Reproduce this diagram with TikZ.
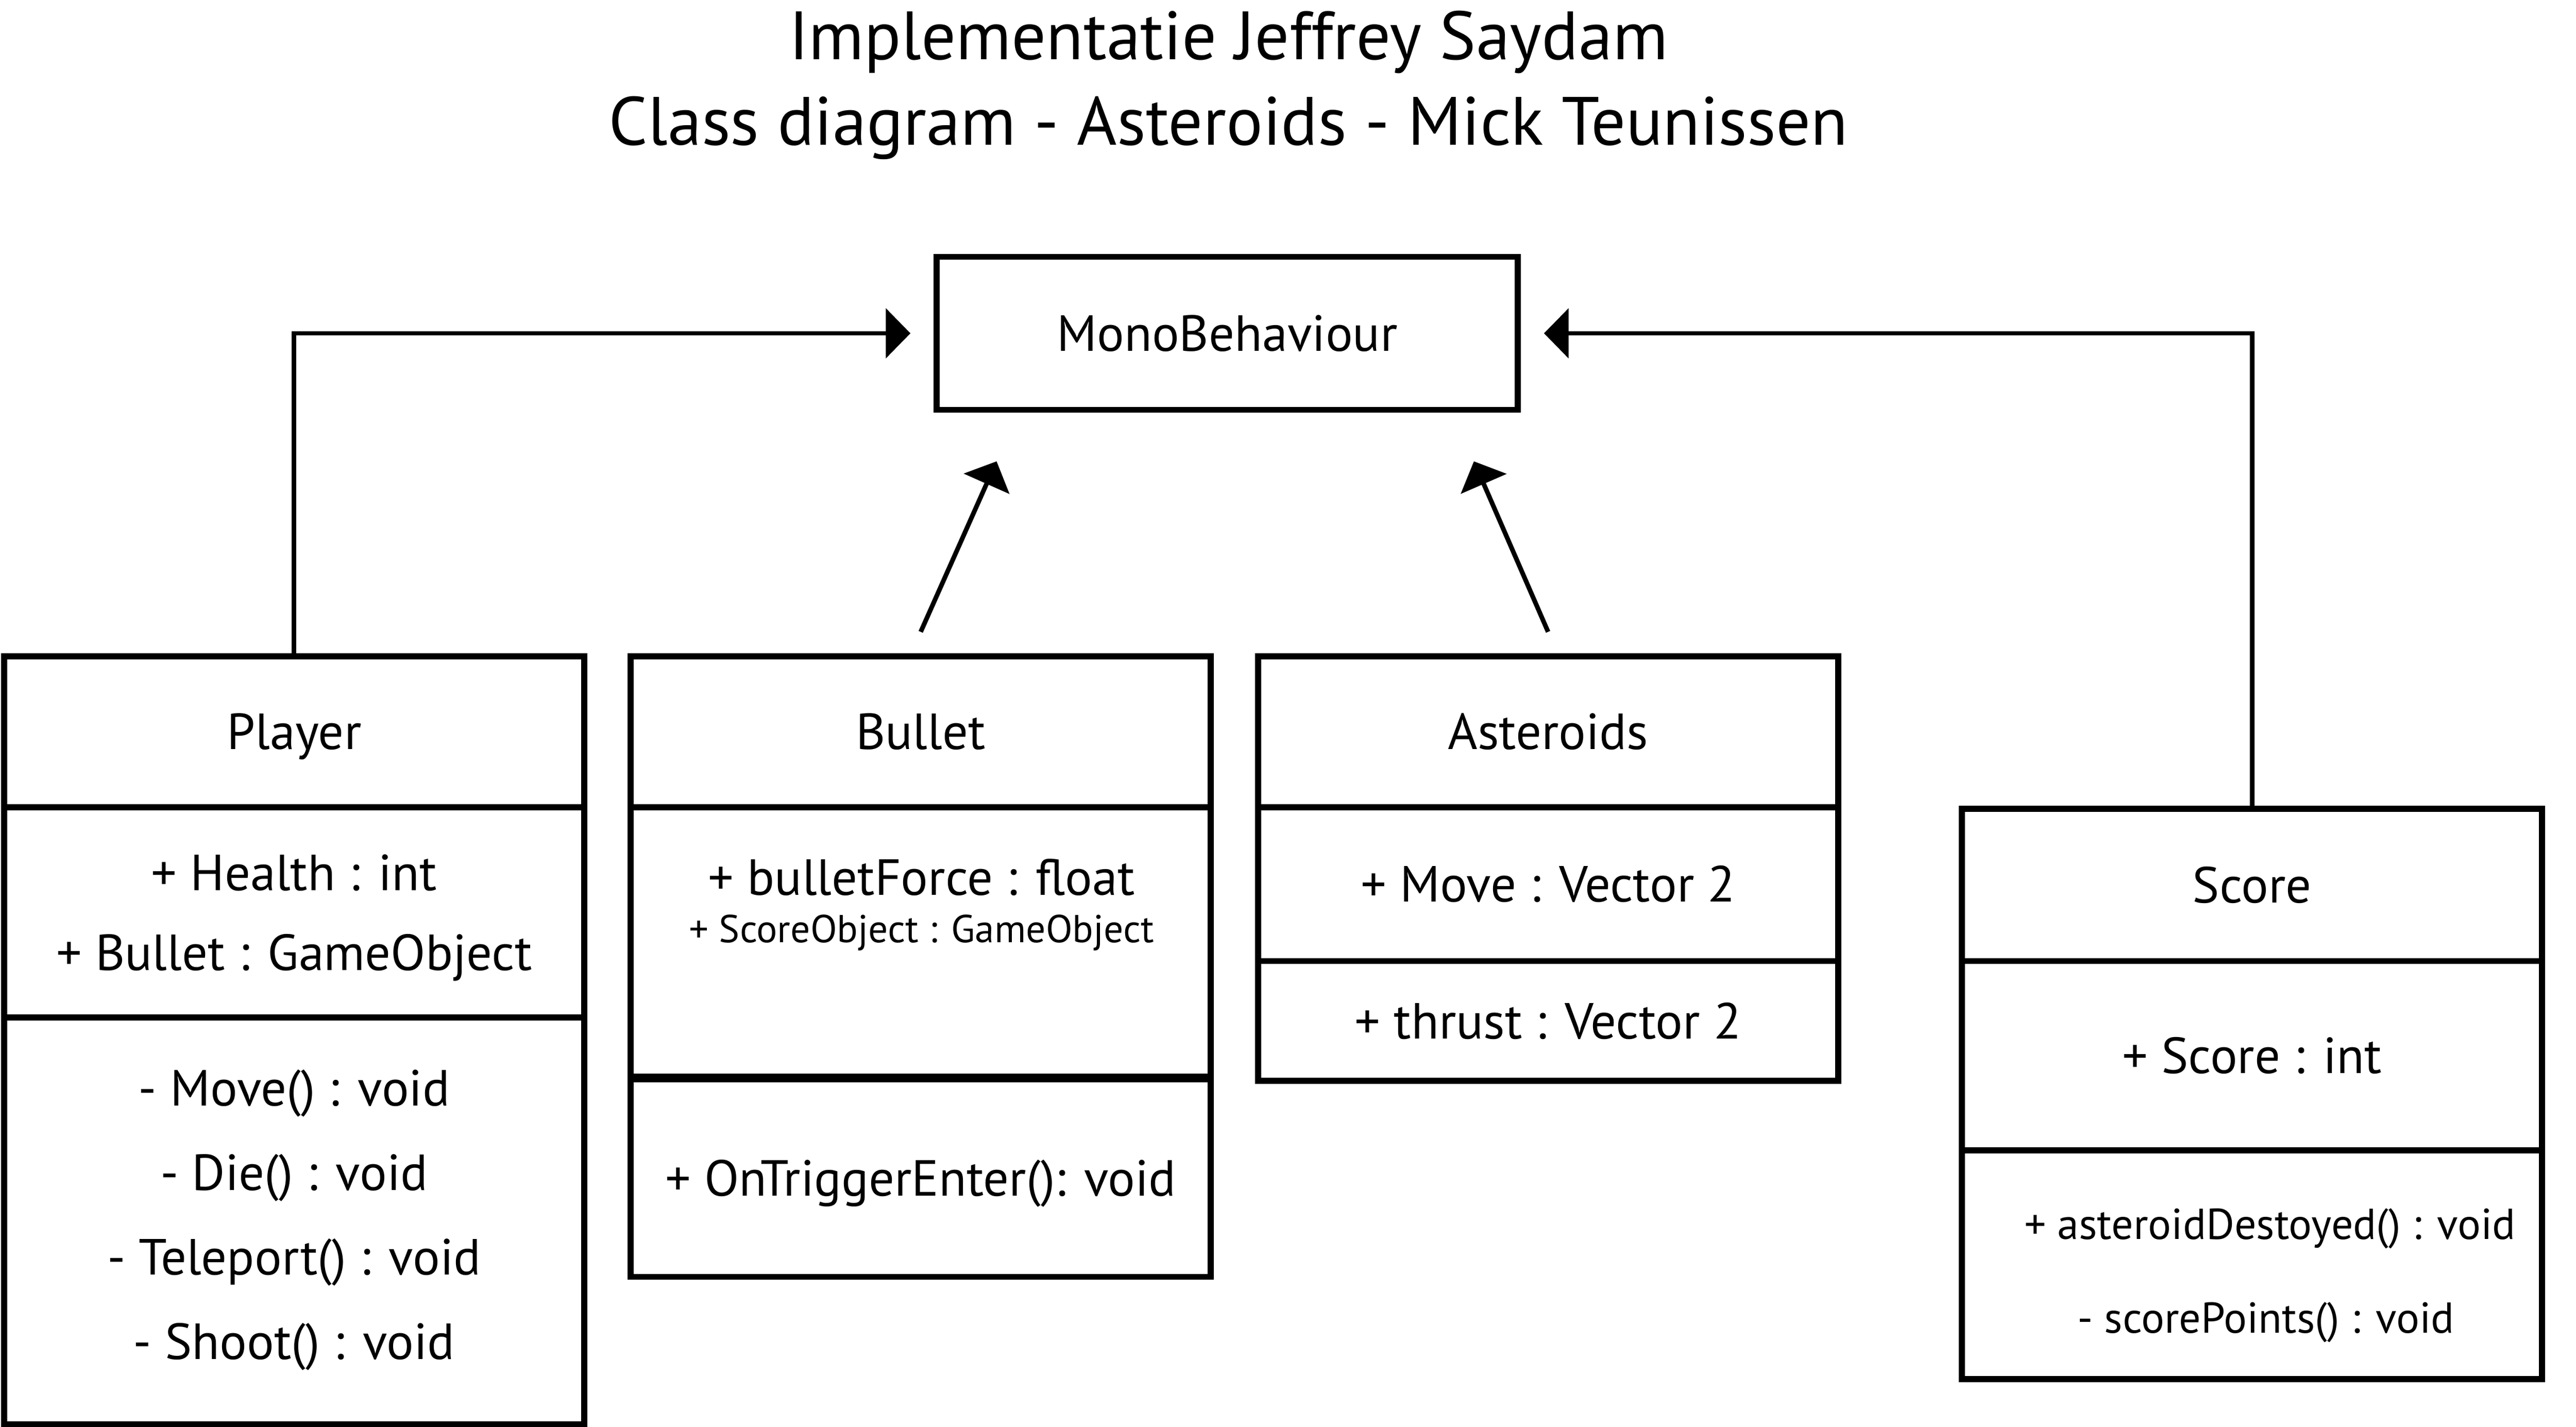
\documentclass[tikz,border=0pt]{standalone}
\usepackage{fontspec}
\setmainfont{PT Sans}
\usetikzlibrary{arrows.meta}

\newcommand{\bodyfont}{\fontsize{17.6pt}{28pt}\selectfont}
\newcommand{\titlefont}{\fontsize{23.7pt}{29.6pt}\selectfont}
\newcommand{\smallfont}{\fontsize{13.5pt}{16pt}\selectfont}
\newcommand{\methfont}{\fontsize{15pt}{18pt}\selectfont}

\tikzset{
  box/.style={draw, line width=2.1pt, minimum width=7.07cm, inner sep=0pt, outer sep=0pt, font=\bodyfont, text height=12.3pt, text depth=0pt, align=center},
  txt/.style={inner sep=0pt, anchor=base},
  inh/.style={line width=1.6pt, -{Triangle[length=0.3cm, width=0.6cm]}},
}

\begin{document}
\begin{tikzpicture}
\useasboundingbox (0,0) rectangle (31.39,-17.39);

\node[font=\titlefont, align=center, text height=46.2pt, text depth=0pt] (title) at (14.97,-0.953) {Implementatie Jeffrey Saydam\\Class diagram - Asteroids - Mick Teunissen};

\node[box, minimum width=7.08cm, minimum height=1.864cm] (mono) at (14.954,-4.062) {MonoBehaviour};

% Player
\node[box, minimum height=1.844cm] (playerhead) at (3.584,-8.918) {Player};
\node[box, minimum height=2.56cm, font=\fontsize{17.6pt}{27.7pt}\selectfont, text height=40pt] (playerattr) at (3.584,-11.12) {+ Health : int\\+ Bullet : GameObject};
\node[box, minimum height=4.956cm, font=\fontsize{17.6pt}{29.3pt}\selectfont, text height=96pt] (playermeth) at (3.584,-14.878) {- Move() : void\\- Die() : void\\- Teleport() : void\\- Shoot() : void};

% Bullet
\node[box, minimum height=1.844cm] (bullethead) at (11.219,-8.918) {Bullet};
\node[box, minimum height=3.278cm] (bulletattr) at (11.219,-11.479) {};
\node[txt, font=\bodyfont] (force) at (11.23,-10.908) {+ bulletForce : float};
\node[txt, font=\smallfont] (scoreobj) at (11.23,-11.486) {+ ScoreObject : GameObject};
\node[box, minimum height=2.408cm] (bulletmeth) at (11.219,-14.356) {+ OnTriggerEnter(): void};

% Asteroids
\node[box, minimum height=1.844cm] (asthead) at (18.864,-8.918) {Asteroids};
\node[box, minimum height=1.872cm] (astattr) at (18.864,-10.776) {+ Move : Vector 2};
\node[box, minimum height=1.458cm] (astmeth) at (18.864,-12.441) {+ thrust : Vector 2};

% Score
\node[box, minimum height=1.854cm] (scorehead) at (27.442,-10.785) {Score};
\node[box, minimum height=2.306cm] (scoreattr) at (27.442,-12.865) {+ Score : int};
\node[box, minimum height=2.788cm] (scoremeth) at (27.442,-15.412) {};
\node[txt, font=\methfont] (destroyed) at (27.66,-15.104) {+ asteroidDestoyed() : void};
\node[txt, font=\methfont] (points) at (27.61,-16.244) {- scorePoints() : void};

\draw[inh, shorten >=0.32cm] (playerhead.north) |- (mono.west);
\draw[inh, shorten >=0.32cm] (scorehead.north) |- (mono.east);
\draw[inh] ([yshift=0.296cm]bullethead.north) -- ([shift={(-2.81,-0.628)}]mono.south);
\draw[inh] ([yshift=0.296cm]asthead.north) -- ([shift={(3.006,-0.628)}]mono.south);
\end{tikzpicture}
\end{document}
